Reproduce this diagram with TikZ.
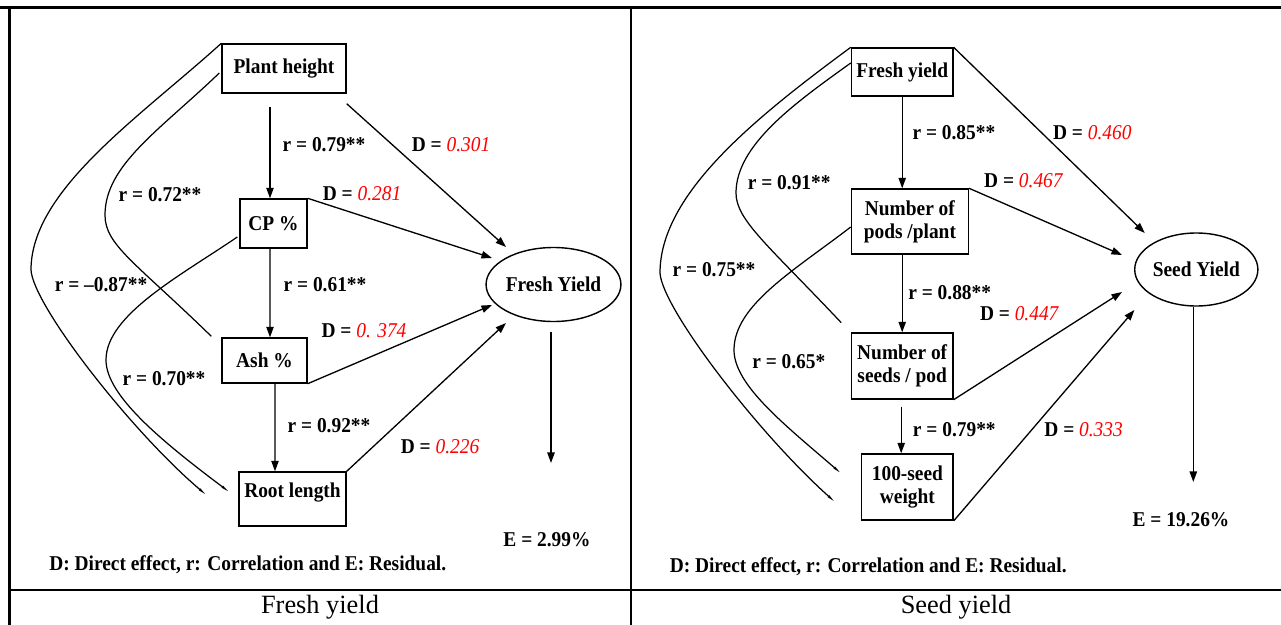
\documentclass[tikz,border=0pt]{standalone}
\usepackage{fontspec}
\setmainfont{Liberation Serif}
\newfontfamily\dgfont{Liberation Serif}[FakeStretch=0.92]
\usetikzlibrary{shapes.geometric,arrows.meta,calc}
\definecolor{valred}{RGB}{255,0,0}
\newcommand\redval[1]{\textcolor{valred}{\mdseries\itshape #1}}
\begin{document}
\begin{tikzpicture}[x=0.02cm,y=-0.02cm,
  lab/.style={font=\dgfont\bfseries\fontsize{12}{13}\selectfont, inner sep=0pt},
  box/.style={draw, line width=0.8pt, font=\dgfont\bfseries\fontsize{12}{13}\selectfont, align=center, inner sep=0pt},
  oval/.style={draw, ellipse, line width=0.8pt, inner sep=0pt, font=\dgfont\bfseries\fontsize{12}{13}\selectfont},
  arr/.style={line width=0.75pt, -{Triangle[length=6pt,width=4.2pt]}},
  crv/.style={line width=0.7pt},
  crvend/.style={crv, -{Triangle[length=5pt,width=1.2pt]}},
  rule/.style={line width=1.3pt},
  captxt/.style={font=\fontsize{15}{18}\selectfont, inner sep=0pt}]
\useasboundingbox (0,0) rectangle (1281,625);
\fill[white] (0,0) rectangle (1281,625);

% table rules
\draw[rule] (0,7.5) -- (1281,7.5);
\draw[rule] (9.5,6.8) -- (9.5,625);
\draw[rule] (631,6.8) -- (631,625);
\draw[rule] (9.5,590) -- (1281,590);

% ---------------- left diagram ----------------
\node[box, minimum width=2.48cm, minimum height=0.98cm] (PH) at (284,68.5) {Plant height};
\node[box, minimum width=1.34cm, minimum height=0.98cm] (CP) at (273.5,223.5) {CP \%};
\node[box, minimum width=1.70cm, minimum height=0.90cm] (ASH) at (264.5,360.5) {Ash \%};
\node[box, minimum width=2.14cm, minimum height=1.08cm, text height=0.30cm, text depth=0.36cm] (RL) at (292.5,499) {Root length};
\node[oval, minimum width=2.40cm, minimum height=1.48cm] (FY) at (553.5,284.5) {Fresh Yield};

\draw[arr] ($(PH.south)+(-14,13)$) -- ($(CP.north)+(-3.5,0)$);
\draw[arr] ($(CP.south)+(-3.5,0)$) -- ($(ASH.north)+(5.5,0)$);
\draw[arr] ($(ASH.south)+(10.5,0)$) -- ($(RL.north)+(-17.5,0)$);
\draw[arr] ($(PH.south east)+(0,10)$) -- ($(FY.center)+(-47.5,-37.5)$);
\draw[arr] (CP.north east) -- ($(FY.center)+(-61.5,-26.5)$);
\draw[arr] (ASH.south east) -- ($(FY.center)+(-61.5,20.5)$);
\draw[arr] (RL.north east) -- ($(FY.center)+(-47.5,38.5)$);
\draw[arr] ($(FY.center)+(-2.5,47.5)$) -- ($(FY.center)+(-2.5,178.5)$);

\draw[crvend] (PH.north west) .. controls (140,117) and (31,190) .. (31,270)
  .. controls (33,305) and (130,430) .. ($(RL.west)+(-32,-4)$);
\draw[crv] ($(PH.west)+(-2,4.5)$) .. controls (160,130) and (105,165) .. (105,215)
  .. controls (105,245) and (135,262) .. ($(ASH.north west)+(-10,-1)$);
\draw[crvend] ($(CP.west)+(-2,13.5)$) .. controls (180,276) and (106,315) .. (106,360)
  .. controls (106,395) and (160,440) .. ($(RL.west)+(-9,-7)$);

\node[lab] (l1) at (324,145) {r = 0.79**};
\node[lab] (l2) at (451,145) {D = \redval{0.301}};
\node[lab] (l3) at (160,195) {r = 0.72**};
\node[lab] (l4) at (362,194) {D = \redval{0.281}};
\node[lab] (l5) at (101,285) {r = –0.87**};
\node[lab] (l6) at (325,285) {r = 0.61**};
\node[lab] (l7) at (364,331) {D = \redval{0. 374}};
\node[lab] (l8) at (164,379) {r = 0.70**};
\node[lab] (l9) at (329,426) {r = 0.92**};
\node[lab] (l10) at (440,447) {D = \redval{0.226}};
\node[lab] (e1) at (547,540) {E = 2.99\%};
\node[lab, anchor=west] (leg1) at (49,565) {D: Direct effect, r: Correlation and E: Residual.};
\node[captxt] (cap1) at (320,607) {Fresh yield};

% ---------------- right diagram ----------------
\node[box, minimum width=2.03cm, minimum height=0.96cm] (FB) at (902.2,72) {Fresh yield};
\node[box, minimum width=2.34cm, minimum height=1.30cm] (NP) at (909.9,221.5) {Number of\\pods /plant};
\node[box, minimum width=2.03cm, minimum height=1.32cm] (NS) at (902.2,366) {Number of\\seeds / pod};
\node[box, minimum width=1.83cm, minimum height=1.32cm] (SW) at (907.4,487) {100-seed\\weight};
\node[oval, minimum width=2.42cm, minimum height=1.46cm] (SY) at (1196.3,269.5) {Seed Yield};

\draw[arr] (FB.south) -- (FB.south |- NP.north);
\draw[arr] (NS.north |- NP.south) -- (NS.north);
\draw[arr] ($(NS.south)+(-1,7)$) -- ($(NS.south |- SW.north)+(-1,0)$);
\draw[arr] (FB.north east) -- ($(SY.center)+(-51.5,-36.5)$);
\draw[arr] (NP.north east) -- ($(SY.center)+(-74.3,-14.5)$);
\draw[arr] (NS.south east) -- ($(SY.center)+(-74.3,22.5)$);
\draw[arr] (SW.south east) -- ($(SY.center)+(-61.9,40.5)$);
\draw[arr] ($(SY.center)+(-3,37)$) -- ($(SY.center)+(-3,212.5)$);

\draw[crvend] (FB.north west) .. controls (755,118) and (660,194) .. (660,273)
  .. controls (662,308) and (757,432) .. ($(SW.west)+(-26,15)$);
\draw[crv] ($(FB.west)+(0,-9)$) .. controls (795,103) and (736,145) .. (736,193)
  .. controls (736,220) and (768,245) .. ($(NS.north west)+(-9.6,-9.7)$);
\draw[crvend] ($(NP.west)+(0,5.5)$) .. controls (795,270) and (734,305) .. (734,350)
  .. controls (734,385) and (785,425) .. ($(SW.west)+(-20,-13.7)$);

\node[lab] (r1) at (953.9,133) {r = 0.85**};
\node[lab] (r2) at (1092.3,133) {D = \redval{0.460}};
\node[lab] (r3) at (789.2,183) {r = 0.91**};
\node[lab] (r4) at (1023.4,181) {D = \redval{0.467}};
\node[lab] (r5) at (714,270) {r = 0.75**};
\node[lab] (r6) at (949.7,293) {r = 0.88**};
\node[lab] (r7) at (1019.2,314) {D = \redval{0.447}};
\node[lab] (r8) at (788.8,362) {r = 0.65*};
\node[lab] (r9) at (954.3,430) {r = 0.79**};
\node[lab] (r10) at (1083.6,430) {D = \redval{0.333}};
\node[lab] (e2) at (1181,520) {E = 19.26\%};
\node[lab, anchor=west] (leg2) at (669.4,567) {D: Direct effect, r: Correlation and E: Residual.};
\node[captxt] (cap2) at (956,607) {Seed yield};
\end{tikzpicture}
\end{document}
